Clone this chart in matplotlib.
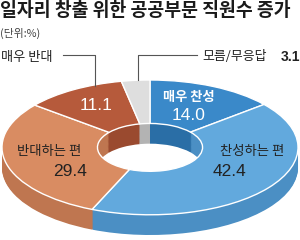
import matplotlib
matplotlib.use("Agg")
import matplotlib.pyplot as plt
import numpy as np

plt.rcParams['font.family'] = ['Noto Sans CJK KR', 'DejaVu Sans']

categories = ['매우 찬성', '찬성하는 편', '반대하는 편', '매우 반대', '모름/무응답']
values = [14.0, 42.4, 29.4, 11.1, 3.1]
top_colors = ['#3a89c9', '#62a9dd', '#d98c62', '#b65a3b', '#dedede']
side_colors = ['#2a6ea6', '#4b8fc4', '#bf7650', '#9a4a2f', '#b3b3b3']

title = '일자리 창출 위한 공공부문 직원수 증가'
unit = '(단위:%)'

W, H = 300, 240
fig = plt.figure(figsize=(3, 2.4), dpi=100)
fig.patch.set_facecolor('white')

# pie axes (pixel box: x 2..298, y 80..235)
depth = 0.30
x0, x1, ytop, ybot = 2, 298, 80, 235
axp = fig.add_axes([x0 / W, (H - ybot) / H, (x1 - x0) / W, (ybot - ytop) / H])
hole = 0.355
nsteps = 24
for k in range(nsteps, 0, -1):
    off = -depth * k / nsteps
    axp.pie(values, colors=side_colors, startangle=90, counterclock=False,
            radius=1, center=(0, off),
            wedgeprops=dict(width=1 - hole, linewidth=0))
axp.pie(values, colors=top_colors, startangle=90, counterclock=False,
        radius=1, center=(0, 0),
        wedgeprops=dict(width=1 - hole, edgecolor='white', linewidth=1.0))
axp.set_aspect('auto')
axp.set_xlim(-1, 1)
axp.set_ylim(-1 - depth, 1)
axp.axis('off')

# overlay axes in pixel coordinates
ax = fig.add_axes([0, 0, 1, 1])
ax.set_xlim(0, W)
ax.set_ylim(H, 0)
ax.axis('off')

ax.text(0, 11, title, fontsize=13.2, fontweight='bold', color='#1a1a1a',
        ha='left', va='center')
ax.text(0, 33, unit, fontsize=7.8, color='#444444', ha='left', va='center')

num_font = ['Liberation Sans Narrow', 'Liberation Sans', 'DejaVu Sans']
kor = ['Noto Sans CJK KR', 'DejaVu Sans']

# leader lines
ax.plot([63, 95, 95], [55, 55, 86], color='#555555', lw=0.8)
ax.plot([197, 138, 138], [55, 55, 80], color='#555555', lw=0.8)

ax.text(1, 57, categories[3], fontsize=9.5, color='#222222', ha='left', va='center', family=kor)
ax.text(202, 57, categories[4], fontsize=9.3, color='#222222', ha='left', va='center', family=kor)
ax.text(281, 57, f'{values[4]:.1f}', fontsize=10, fontweight='bold', color='#222222',
        ha='left', va='center', family=num_font)

nfs = 12.5
ax.text(96, 106, f'{values[3]:.1f}', fontsize=nfs, color='white', ha='center', va='center', family=num_font)
ax.text(189, 97, categories[0], fontsize=9.5, fontweight='bold', color='white', ha='center', va='center', family=kor)
ax.text(189, 116, f'{values[0]:.1f}', fontsize=nfs, color='white', ha='center', va='center', family=num_font)
ax.text(252, 151, categories[1], fontsize=9.6, color='#222222', ha='center', va='center', family=kor)
ax.text(213, 172, f'{values[1]:.1f}', fontsize=nfs, color='#222222', ha='left', va='center', family=num_font)
ax.text(49, 151, categories[2], fontsize=9.6, color='#222222', ha='center', va='center', family=kor)
ax.text(70, 172, f'{values[2]:.1f}', fontsize=nfs, color='#222222', ha='center', va='center', family=num_font)

fig.savefig('out.png', dpi=100, facecolor='white')
